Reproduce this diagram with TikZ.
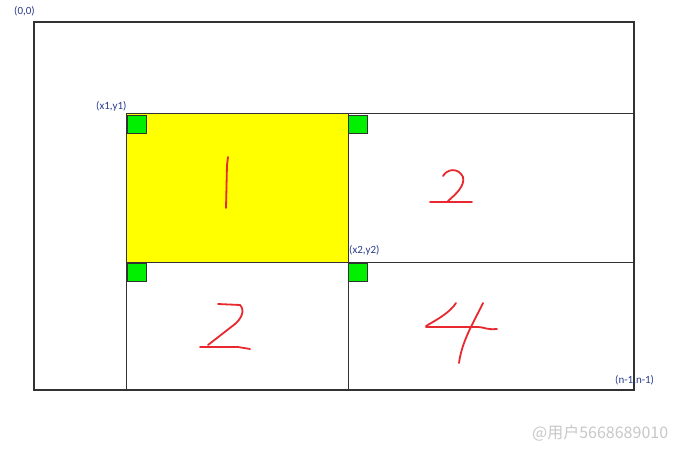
\documentclass[tikz,border=0pt]{standalone}
\usepackage{fontspec}
\setmainfont{Carlito}
\newfontfamily\cjkfont{Noto Sans CJK SC}
\definecolor{lbl}{RGB}{40,60,140}
\definecolor{hand}{RGB}{232,40,46}
\definecolor{grn}{RGB}{0,240,0}
\definecolor{ylw}{RGB}{255,255,0}
\definecolor{frame}{RGB}{50,50,50}
\definecolor{wm}{RGB}{200,200,200}
\tikzset{
  px/.style={x=1pt,y=-1pt},
  gridline/.style={draw=frame,line width=1pt},
  marker/.style={draw=frame,fill=grn,line width=0.9pt},
  coord/.style={text=lbl,font=\fontsize{11}{12}\selectfont,inner sep=0pt},
  stroke/.style={draw=hand,line width=1.8pt,line cap=round,line join=round},
}
\begin{document}
\begin{tikzpicture}[px]
\useasboundingbox (0,0) rectangle (690,449);
\fill[white] (0,0) rectangle (690,449);
% yellow region
\fill[ylw] (126,114) rectangle (348,262);
% grid
\coordinate (A) at (34,22);
\coordinate (B) at (634,390);
\draw[gridline,line width=1.2pt] (A) rectangle (B);
\draw[gridline] (126,114) -- (634,114);
\draw[gridline] (126,262) -- (634,262);
\draw[gridline] (126,114) -- (126,390);
\draw[gridline] (348,114) -- (348,390);
% green markers
\draw[marker] (127,115) rectangle (146,133);
\draw[marker] (348,115) rectangle (367,133);
\draw[marker] (127,263) rectangle (146,281);
\draw[marker] (348,263) rectangle (367,281);
% coordinate labels
\node[coord,anchor=west] (l00) at (14,11) {(0,0)};
\node[coord,anchor=west] (l1) at (96,106) {(x1,y1)};
\node[coord,anchor=west] (l2) at (349,250) {(x2,y2)};
\node[coord,anchor=west] (ln) at (615,380) {(n-1,n-1)};
% handwritten digits
\draw[stroke] (228,157) -- (227,165) -- (226,208);
\draw[stroke] (443,176) .. controls (447,169) and (458,167) .. (463,177)
  .. controls (465,186) and (456,194) .. (448,201);
\draw[stroke] (430,202) -- (472,202);
\draw[stroke] (218,304) -- (240,305) .. controls (245,310) and (242,318) .. (235,324)
  -- (208,345);
\draw[stroke] (200,347) -- (238,347) -- (250,349);
\draw[stroke] (456,303) .. controls (450,312) and (440,318) .. (426,326);
\draw[stroke] (426,327) -- (478,327) .. controls (484,327) and (486,330) .. (497,329);
\draw[stroke] (483,303) .. controls (475,320) and (462,340) .. (459,363);
% watermark
\node[text=wm,anchor=west,inner sep=0pt,font=\cjkfont\fontsize{16}{17}\selectfont] (wm) at (532,433) {@用户5668689010};
\end{tikzpicture}
\end{document}
